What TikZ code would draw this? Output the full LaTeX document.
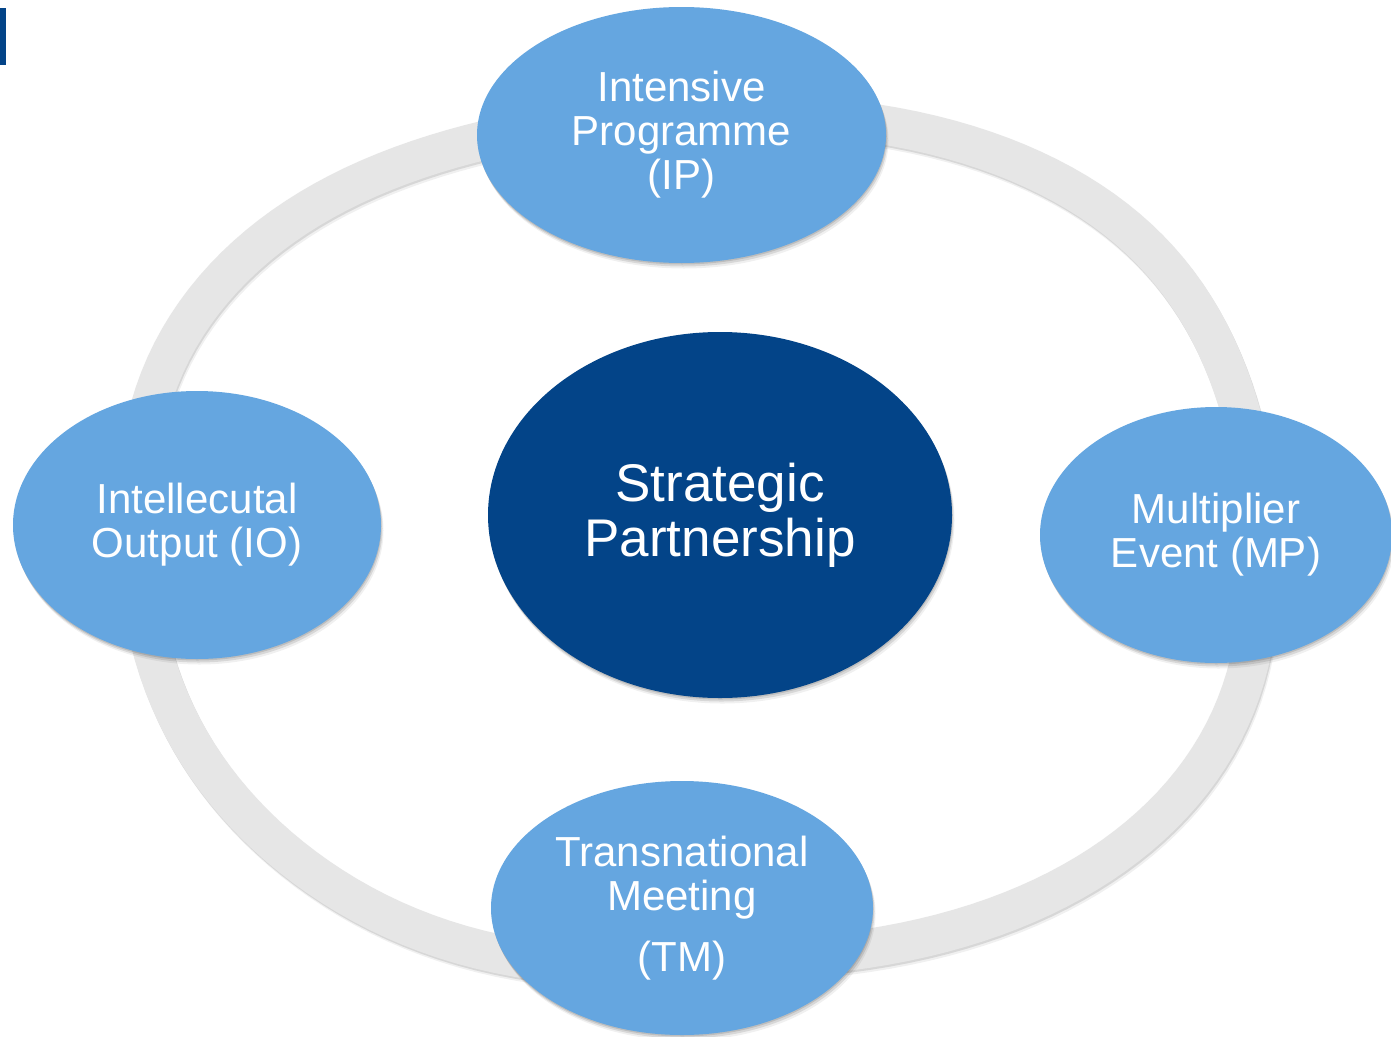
\documentclass[tikz,border=0pt]{standalone}
\usepackage{fontspec}
\newfontfamily\labfont{Liberation Sans}
\usetikzlibrary{shapes.geometric,shadows}
\definecolor{lblue}{RGB}{101,166,224}
\definecolor{dblue}{RGB}{3,68,136}
\definecolor{ringgray}{RGB}{230,230,230}
\tikzset{
  softshadow/.style={
    drop shadow={shadow xshift=0.5pt,shadow yshift=-1.5pt,opacity=.12,fill=black},
    drop shadow={shadow xshift=1.5pt,shadow yshift=-3.5pt,opacity=.10,fill=black},
    drop shadow={shadow xshift=2.5pt,shadow yshift=-5.5pt,opacity=.06,fill=black}},
  sat/.style={ellipse, fill=lblue, inner sep=0pt, text=white, align=center,
    font=\labfont\fontsize{42}{44}\selectfont, softshadow},
  hub/.style={ellipse, fill=dblue, inner sep=0pt, text=white, align=center,
    font=\labfont\fontsize{53}{55}\selectfont, softshadow},
  ringline/.style={line width=39pt, draw=ringgray, line join=round},
}
\begin{document}
\begin{tikzpicture}[x=1pt,y=-1pt]
\useasboundingbox (0,0) rectangle (1391,1036);
\fill[white] (0,0) rectangle (1391,1036);
% accent bar
\fill[dblue] (0,8) rectangle (6,65);
% ring (slightly irregular superellipse) : soft shadow then band
\def\ringpath{plot[domain=-269.5:88.5, samples=180, variable=\t]
  ({706+564*cos(\t)*abs(cos(\t))^(-0.1304)
     -15*exp(-min(((\t+15)/28)^2,30)) -8*exp(-min(((\t+163)/26)^2,30))},
   {535+424*sin(\t)*abs(sin(\t))^(-0.1304)
     +14*exp(-min(((\t+250)/28)^2,30)) +7*exp(-min(((\t+111)/24)^2,30))}) -- cycle}
\draw[line width=39pt, draw=black, opacity=.10, line join=round, xshift=1pt, yshift=-2pt] \ringpath;
\draw[line width=39pt, draw=black, opacity=.06, line join=round, xshift=2pt, yshift=-4pt] \ringpath;
\draw[ringline] \ringpath;
% nodes
\node[hub, minimum width=464pt, minimum height=366pt] (sp) at (720,515) {Strategic\\Partnership};
\node[sat, minimum width=409pt, minimum height=256pt] (ip) at (681.5,135) {Intensive\\Programme\\(IP)};
\node[sat, minimum width=368pt, minimum height=268pt] (io) at (197,525) {Intellecutal\\Output (IO)};
\node[sat, minimum width=352pt, minimum height=256pt] (mp) at (1216,535) {Multiplier\\Event (MP)};
\node[sat, minimum width=382pt, minimum height=254pt] (tm) at (682,908) {Transnational\\Meeting\\[17pt](TM)};
\end{tikzpicture}
\end{document}
